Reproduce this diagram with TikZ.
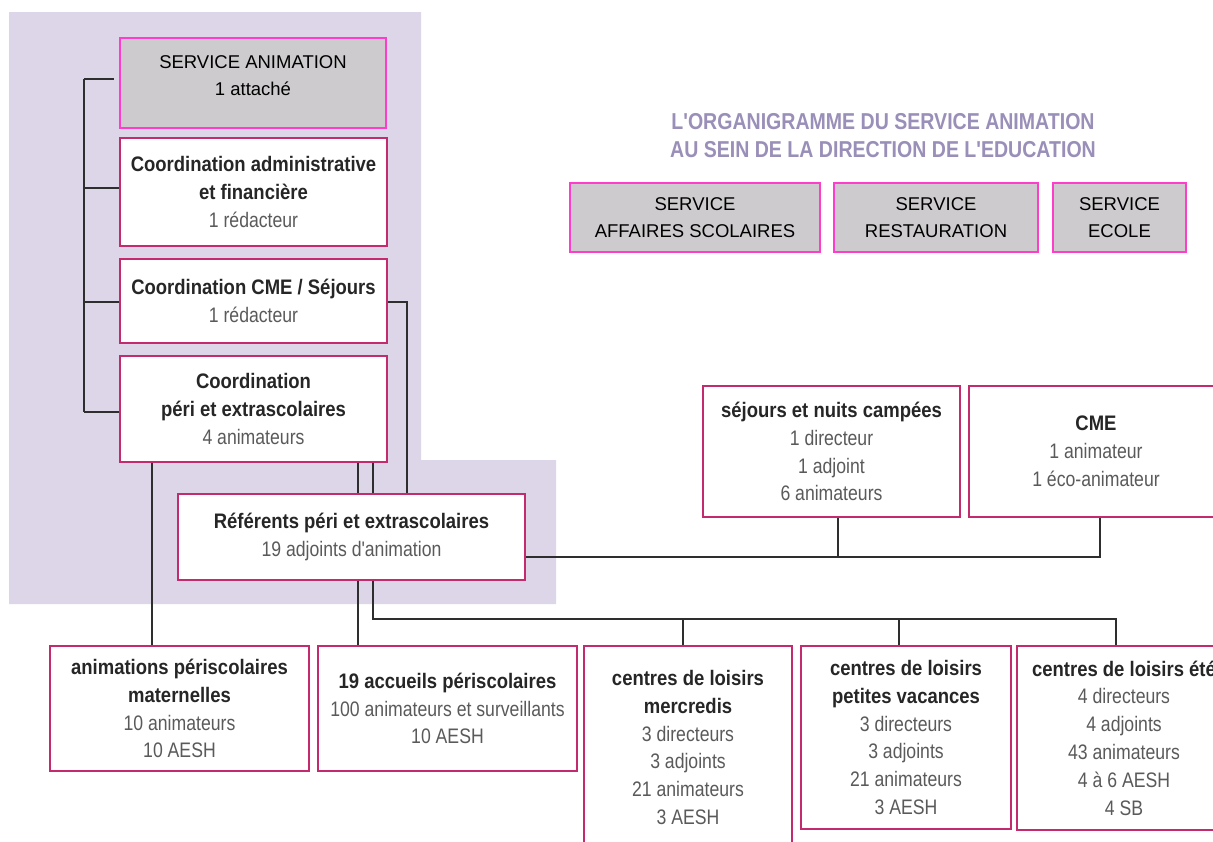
\documentclass[tikz,border=0pt]{standalone}
\usepackage{fontspec}
\setmainfont{Liberation Sans}
\newfontfamily\cnd[FakeStretch=0.84]{Liberation Sans}
\newfontfamily\cndb[FakeStretch=0.88]{Liberation Sans}
\newfontfamily\ttlfont[FakeStretch=0.85]{Liberation Sans}
\definecolor{lav}{HTML}{DDD6E8}
\definecolor{boxpink}{HTML}{C42A6E}
\definecolor{mag}{HTML}{FF3DCB}
\definecolor{grayfill}{HTML}{CDCBCD}
\definecolor{boldtxt}{HTML}{262626}
\definecolor{regtxt}{HTML}{5A5A5A}
\definecolor{ttlcol}{HTML}{9A8FB8}
\definecolor{conncol}{HTML}{2E2E2E}
\newcommand{\bl}[1]{{\cndb\bfseries\color{boldtxt}#1}}
\newcommand{\rl}[1]{{\cnd\color{regtxt}#1}}
\tikzset{
  cbox/.style={draw=boxpink, line width=1.8pt, fill=white, inner sep=0pt, align=center,
    font=\fontsize{21}{27.8}\selectfont},
  gbox/.style={draw=mag, line width=2.2pt, fill=grayfill, inner sep=0pt, align=center,
    font=\fontsize{18.5}{26.5}\selectfont},
  conn/.style={draw=conncol, line width=1.5pt},
}
\begin{document}
\begin{tikzpicture}[x=1pt,y=-1pt]
\useasboundingbox (0,0) rectangle (1213,841);
\clip (0,0) rectangle (1213,841);
\fill[white] (0,0) rectangle (1213,841);
% lavender background
\fill[lav] (9,12) -- (421,12) -- (421,460) -- (556,460) -- (556,604) -- (9,604) -- cycle;

% helper coordinates
\coordinate (bx) at (84,0);
\coordinate (rx) at (407,0);
\coordinate (x152) at (152,0);
\coordinate (x358) at (358,0);
\coordinate (x373) at (373,0);
\coordinate (x683) at (683,0);
\coordinate (x899) at (899,0);
\coordinate (x1116) at (1116,0);
\coordinate (x838) at (838,0);
\coordinate (x1100) at (1100,0);
\coordinate (hb) at (0,619);
\coordinate (hy) at (0,557);
\coordinate (ya) at (0,188);
\coordinate (yb) at (0,302);
\coordinate (yc) at (0,412);
\coordinate (yt) at (0,79);

% connectors (drawn first, behind boxes)
\draw[conn] (bx |- yt) -- (bx |- yc);
\draw[conn] (x152 |- yc) -- (x152 |- hb);

% left column
\node[gbox, minimum width=266pt, minimum height=90pt] (sa) at (253,83) {};
\node[font=\fontsize{18.5}{26.5}\selectfont, align=center, inner sep=0pt] (salabel) at (253,75.5) {SERVICE ANIMATION\\1 attaché};
\node[cbox, minimum width=267pt, minimum height=108pt] (ca) at (253.5,192) {\bl{Coordination administrative}\\\bl{et financière}\\\rl{1 rédacteur}};
\node[cbox, minimum width=267pt, minimum height=84pt] (cmec) at (253.5,301) {\bl{Coordination CME / Séjours}\\\rl{1 rédacteur}};
\node[cbox, minimum width=267pt, minimum height=106pt] (peri) at (253.5,409) {\bl{Coordination}\\\bl{péri et extrascolaires}\\\rl{4 animateurs}};
\node[cbox, minimum width=347pt, minimum height=86pt] (ref) at (351.5,537) {\bl{Référents péri et extrascolaires}\\\rl{19 adjoints d'animation}};

% title
\node[font=\fontsize{23}{28}\selectfont\ttlfont\bfseries, text=ttlcol, align=center, inner sep=0pt] (title) at (883,136)
  {L'ORGANIGRAMME DU SERVICE ANIMATION\\AU SEIN DE LA DIRECTION DE L'EDUCATION};

% service boxes
\node[gbox, minimum width=250pt, minimum height=69pt] (sas) at (695,217.5) {SERVICE\\AFFAIRES SCOLAIRES};
\node[gbox, minimum width=204pt, minimum height=69pt] (sr) at (936,217.5) {SERVICE\\RESTAURATION};
\node[gbox, minimum width=133pt, minimum height=69pt] (se) at (1119.5,217.5) {SERVICE\\ECOLE};

% séjours / CME
\node[cbox, minimum width=257pt, minimum height=131pt] (sej) at (831.5,451.5) {\bl{séjours et nuits campées}\\\rl{1 directeur}\\\rl{1 adjoint}\\\rl{6 animateurs}};
\node[cbox, minimum width=254pt, minimum height=131pt] (cme) at (1096,451.5) {\bl{CME}\\\rl{1 animateur}\\\rl{1 éco-animateur}};

% bottom boxes
\node[cbox, minimum width=259pt, minimum height=125pt] (b1) at (179.5,708.5) {\bl{animations périscolaires}\\\bl{maternelles}\\\rl{10 animateurs}\\\rl{10 AESH}};
\node[cbox, minimum width=259pt, minimum height=125pt] (b2) at (447.5,708.5) {\bl{19 accueils périscolaires}\\\rl{100 animateurs et surveillants}\\\rl{10 AESH}};
\node[cbox, minimum width=208pt, minimum height=203pt] (b3) at (688,747.5) {\bl{centres de loisirs}\\\bl{mercredis}\\\rl{3 directeurs}\\\rl{3 adjoints}\\\rl{21 animateurs}\\\rl{3 AESH}};
\node[cbox, minimum width=210pt, minimum height=183pt] (b4) at (906,737.5) {\bl{centres de loisirs}\\\bl{petites vacances}\\\rl{3 directeurs}\\\rl{3 adjoints}\\\rl{21 animateurs}\\\rl{3 AESH}};
\node[cbox, minimum width=214pt, minimum height=184pt] (b5) at (1124,738) {\bl{centres de loisirs été}\\\rl{4 directeurs}\\\rl{4 adjoints}\\\rl{43 animateurs}\\\rl{4 à 6 AESH}\\\rl{4 SB}};

% bracket links
\draw[conn] ([xshift=-5pt]sa.west |- yt) -- (bx |- yt);
\draw[conn] (bx |- ya) -- (ca.west |- ya);
\draw[conn] (bx |- yb) -- (cmec.west |- yb);
\draw[conn] (bx |- yc) -- (peri.west |- yc);
% CME coord to référents
\draw[conn] (cmec.east |- yb) -- (rx |- yb) -- (rx |- ref.north);
% péri to référents
\draw[conn] (x358 |- peri.south) -- (x358 |- ref.north);
\draw[conn] (x373 |- peri.south) -- (x373 |- ref.north);
% péri to b1
\draw[conn] (x152 |- peri.south) -- (x152 |- b1.north);
% référents to b2
\draw[conn] (x358 |- ref.south) -- (x358 |- b2.north);
% référents to centres de loisirs
\draw[conn] (x373 |- ref.south) -- (x373 |- hb) -- (x1116 |- hb) -- (x1116 |- b5.north);
\draw[conn] (x683 |- hb) -- (x683 |- b3.north);
\draw[conn] (x899 |- hb) -- (x899 |- b4.north);
% référents to séjours and CME
\draw[conn] (ref.east |- hy) -- (x1100 |- hy) -- (x1100 |- cme.south);
\draw[conn] (x838 |- hy) -- (x838 |- sej.south);
\end{tikzpicture}
\end{document}
